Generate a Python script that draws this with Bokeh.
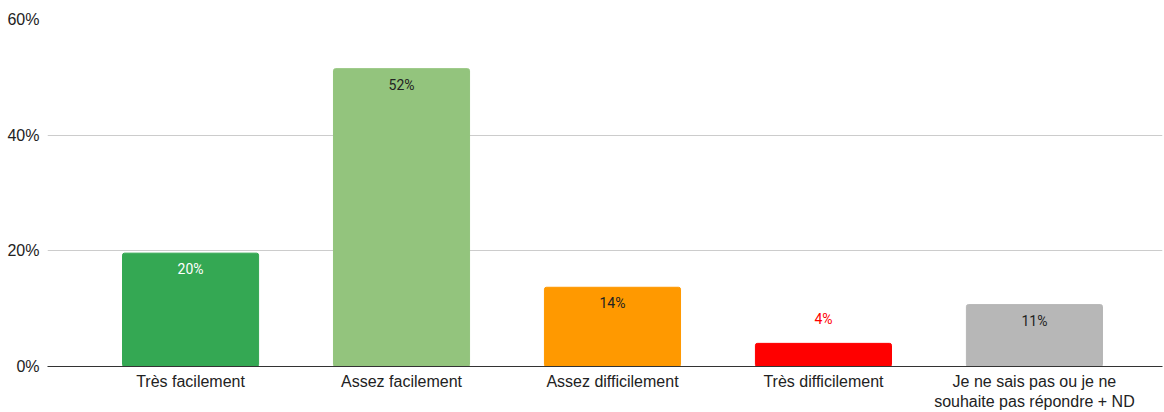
from bokeh.plotting import figure
from bokeh.models import ColumnDataSource, Range1d, FixedTicker, NumeralTickFormatter
from bokeh.core.properties import value
from bokeh.embed import file_html
from bokeh.resources import INLINE

categories = ["Très facilement", "Assez facilement", "Assez difficilement",
              "Très difficilement", "Je ne sais pas ou je ne\nsouhaite pas répondre + ND"]
shares = [0.196, 0.515, 0.137, 0.040, 0.107]
labels = ["20%", "52%", "14%", "4%", "11%"]

bar_colors = ["#34a853", "#93c47d", "#ff9900", "#ff0000", "#b7b7b7"]
label_colors = ["#ffffff", "#222222", "#222222", "#ff0000", "#222222"]

xs = list(range(len(categories)))
offsets = [16 if v > 0.06 else -24 for v in shares]

src = ColumnDataSource(dict(x=xs, top=shares, color=bar_colors, label=labels,
                            lcolor=label_colors, off=offsets))

p = figure(width=1164, height=412, output_backend="svg", toolbar_location=None,
           x_range=Range1d(-0.678, 4.607), y_range=Range1d(0, 0.6),
           min_border_left=47, min_border_right=2, min_border_top=19, min_border_bottom=43)
p.outline_line_color = None
p.background_fill_color = "#ffffff"

p.vbar(x="x", top="top", width=0.645, bottom=0, color="color", source=src,
       border_radius=2)
p.text(x="x", y="top", text="label", text_color="lcolor", y_offset="off",
       text_align="center", text_baseline="middle", text_font=value("Roboto"),
       text_font_size="14px", source=src)

p.xaxis.ticker = FixedTicker(ticks=xs)
p.xaxis.major_label_overrides = {i: c for i, c in enumerate(categories)}
p.xaxis.major_tick_line_color = None
p.xaxis.minor_tick_line_color = None
p.xaxis.major_tick_out = 0
p.xaxis.major_tick_in = 0
p.xaxis.minor_tick_out = 0
p.xaxis.axis_line_color = "#333333"
p.xaxis.axis_line_width = 1
p.xaxis.major_label_text_font = "Liberation Sans"
p.xaxis.major_label_text_font_size = "16px"
p.xaxis.major_label_text_color = "#222222"
p.xaxis.major_label_standoff = 6
p.xgrid.grid_line_color = None

p.yaxis.ticker = FixedTicker(ticks=[0, 0.2, 0.4, 0.6])
p.yaxis.formatter = NumeralTickFormatter(format="0%")
p.yaxis.axis_line_color = None
p.yaxis.major_tick_line_color = None
p.yaxis.minor_tick_line_color = None
p.yaxis.major_tick_out = 0
p.yaxis.major_tick_in = 0
p.yaxis.minor_tick_out = 0
p.yaxis.major_label_text_font = "Liberation Sans"
p.yaxis.major_label_text_font_size = "16px"
p.yaxis.major_label_text_color = "#222222"
p.yaxis.major_label_standoff = 8
p.ygrid.grid_line_color = "#cccccc"

open("out.html", "w").write(file_html(p, INLINE))
